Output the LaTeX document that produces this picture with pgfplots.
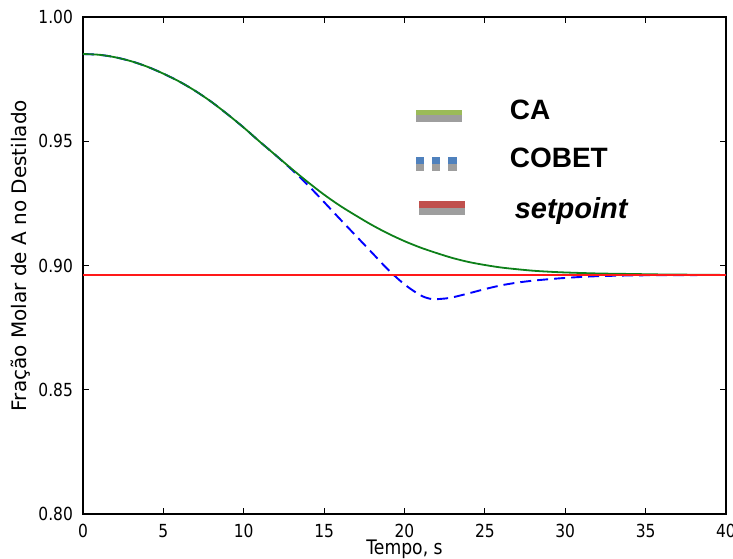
\documentclass[border=0pt]{standalone}
\usepackage{pgfplots}
\pgfplotsset{compat=1.18}
\usepackage{pgfplotstable}
\usepackage{fontspec}
\setmainfont{DejaVu Sans}[FakeStretch=0.86]
\newfontfamily\ylabfont{DejaVu Sans}
\newfontfamily\legfont{Liberation Sans}
\definecolor{cagreen}{rgb}{0.05,0.5,0.1}
\definecolor{legG}{HTML}{9BBB59}
\definecolor{legB}{HTML}{4F81BD}
\definecolor{legR}{HTML}{C0504D}
\definecolor{hatch}{gray}{0.62}

\pgfplotstableread{
t y
0 0.9851
1 0.9848
2 0.9838
3 0.9822
4 0.9800
5 0.9772
6 0.9740
7 0.9702
8 0.9658
9 0.9608
10 0.9555
11 0.9498
12 0.9443
13 0.9388
14 0.9335
15 0.9285
16 0.9240
17 0.9200
18 0.9162
19 0.9128
20 0.9098
21 0.9072
22 0.9050
23 0.9030
24 0.9014
25 0.9002
26 0.8992
27 0.8985
28 0.8979
29 0.8975
30 0.8972
32 0.8968
34 0.8966
36 0.8964
38 0.8963
40 0.8962
}\cadata

\pgfplotstableread{
t y
0 0.9851
1 0.9848
2 0.9838
3 0.9822
4 0.9800
5 0.9772
6 0.9740
7 0.9702
8 0.9658
9 0.9608
10 0.9555
11 0.9498
12 0.9443
13 0.9385
14 0.9323
15 0.9255
16 0.9186
17 0.9118
18 0.9050
19 0.8982
20 0.8924
21 0.8880
21.7 0.8865
22.5 0.8867
23 0.8872
24 0.8888
25 0.8905
26 0.8920
27 0.8931
28 0.8939
29 0.8945
30 0.8950
31 0.8954
32 0.8957
34 0.8960
36 0.8961
40 0.8962
}\cobetdata

\pgfplotstableread{
t y
0 0.8962
40 0.8962
}\spdata

\begin{document}
\begin{tikzpicture}
\begin{axis}[
  scale only axis,
  width=321.5pt, height=248.5pt,
  xmin=0, xmax=40, ymin=0.80, ymax=1.00,
  xtick={0,5,...,40},
  ytick={0.80,0.85,0.90,0.95,1.00},
  tick align=inside,
  major tick length=3pt,
  tick style={black, line width=0.5pt},
  axis line style={black, line width=0.6pt},
  /pgf/number format/assume math mode=true,
  ticklabel style={font=\fontsize{9}{10}\selectfont},
  yticklabel style={/pgf/number format/fixed, /pgf/number format/fixed zerofill, /pgf/number format/precision=2, xshift=-1.5pt},
  xticklabel style={yshift=-1.5pt},
  xlabel={Tempo, s},
  ylabel={Fração Molar de A no Destilado},
  every axis x label/.style={at={(axis description cs:0.5,0)}, anchor=base, yshift=-20pt, font=\fontsize{10}{12}\selectfont},
  every axis y label/.style={at={([xshift=-31pt]axis description cs:0,0.52)}, rotate=90, anchor=center, font=\ylabfont\fontsize{10}{12}\selectfont},
  legend cell align=left,
  legend style={at={(axis cs:20.715,0.9666)}, anchor=north west, draw=none, fill=none,
    inner sep=0pt, inner xsep=0pt, inner ysep=0pt, outer sep=0pt,
    row sep=13.4pt, column sep=22.5pt,
    nodes={inner sep=0pt, outer sep=0pt, text depth={}},
    font=\legfont\bfseries\fontsize{14}{16}\selectfont},
]
\coordinate (bl) at (rel axis cs:0,0);
\coordinate (tr) at (rel axis cs:1,1);

\addplot[blue, line width=0.95pt, dash pattern=on 5.5pt off 3pt, smooth, forget plot] table[x=t,y=y] {\cobetdata};
\addplot[cagreen, line width=0.9pt, smooth, forget plot] table[x=t,y=y] {\cadata};
\addplot[red!90!white, line width=0.9pt, forget plot] table[x=t,y=y] {\spdata};

\addlegendimage{legend image code/.code={
  \fill[legG] (0pt,-0.35pt) rectangle (22.5pt,-2.5pt);
  \fill[hatch] (0pt,-2.5pt) rectangle (22.5pt,-5.5pt);
}}
\addlegendimage{legend image code/.code={
  \fill[legB] (0pt,0.25pt) rectangle (3.7pt,-3.4pt);
  \fill[hatch] (0pt,-3.4pt) rectangle (3.7pt,-6.1pt);
  \fill[legB] (8pt,0.25pt) rectangle (11.7pt,-3.4pt);
  \fill[hatch] (8pt,-3.4pt) rectangle (11.7pt,-6.1pt);
  \fill[legB] (16.2pt,0.25pt) rectangle (19.9pt,-3.4pt);
  \fill[hatch] (16.2pt,-3.4pt) rectangle (19.9pt,-6.1pt);
}}
\addlegendimage{legend image code/.code={
  \fill[legR] (1.5pt,5pt) rectangle (24pt,1.15pt);
  \fill[hatch] (1.5pt,1.15pt) rectangle (24pt,-1.5pt);
}}
\legend{CA, COBET, \hspace{2.5pt}{\fontsize{14.5}{16}\selectfont\textit{setpoint}}}
\end{axis}
\pgfresetboundingbox
\path[use as bounding box] ([shift={(-41.5pt,-22pt)}]bl) rectangle ([shift={(3.5pt,8.5pt)}]tr);
\end{tikzpicture}
\end{document}
